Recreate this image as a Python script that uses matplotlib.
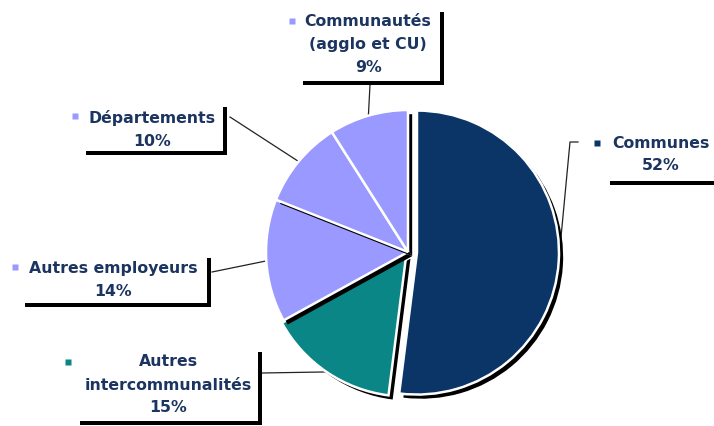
import numpy as np
import matplotlib
matplotlib.use('Agg')
import matplotlib.pyplot as plt
from matplotlib.patches import Rectangle
import matplotlib.patheffects as pe

# ---- data ----
categories = ['Communes', 'Autres intercommunalités', 'Autres employeurs',
              'Départements', 'Communautés (agglo et CU)']
name_lines = [['Communes'], ['Autres', 'intercommunalités'], ['Autres employeurs'],
              ['Départements'], ['Communautés', '(agglo et CU)']]
shares = [52, 15, 14, 10, 9]

# ---- style / layout (pixel coordinates, y from top) ----
colors = ['#0b3566', '#0b8686', '#9999ff', '#9999ff', '#9999ff']
explode_px = [9, 3, 0, 0, 0]
W, H = 714, 426
pie_center_px = (408, 252)
pie_radius = 142
# white label boxes (left, top, right, bottom)
boxes = [(606, 130, 730, 181), (76, 348, 258, 421), (21, 254, 207, 303),
         (82, 103, 223, 151), (299, 8, 440, 81)]
text_pos = [(661, 143), (168, 362), (113, 268), (152, 118), (368, 21)]
marker_pos = [(597, 143), (68, 362), (15, 267), (75, 116), (292, 21)]
leader_start = [[(578, 142), (570, 142)], [(262, 373)], [(212, 272)],
                [(230, 117)], [(370, 85)]]
line_step = 23
text_color = '#1c3460'
shadow_off = 4

def Y(y):
    return H - y

fig = plt.figure(figsize=(W / 100, H / 100), dpi=100)
ax = fig.add_axes([0, 0, 1, 1])

wedges, _ = ax.pie(shares, colors=colors, startangle=90, counterclock=False,
                   explode=explode_px, center=(pie_center_px[0], Y(pie_center_px[1])),
                   radius=pie_radius,
                   wedgeprops=dict(edgecolor='white', linewidth=1.8))
for w in wedges:
    w.set_path_effects([pe.SimplePatchShadow(offset=(3, -3), shadow_rgbFace='black',
                                             alpha=1.0), pe.Normal()])
    w.set_zorder(2)

ax.set_xlim(0, W)
ax.set_ylim(0, H)
ax.set_aspect('equal')
ax.axis('off')

for i, w in enumerate(wedges):
    # leader line
    mid = np.deg2rad((w.theta1 + w.theta2) / 2)
    cx, cy = w.center
    end = (cx + w.r * np.cos(mid), cy + w.r * np.sin(mid))
    pts = [(x, Y(y)) for x, y in leader_start[i]] + [end]
    xs, ys = zip(*pts)
    ax.plot(xs, ys, color='#222222', lw=0.9, zorder=1)
    # box with shadow
    l, t, r, b = boxes[i]
    ax.add_patch(Rectangle((l + shadow_off, Y(b + shadow_off)), r - l, b - t,
                           facecolor='black', edgecolor='none', zorder=3))
    ax.add_patch(Rectangle((l, Y(b)), r - l, b - t,
                           facecolor='white', edgecolor='none', zorder=4))
    # marker
    mx, my = marker_pos[i]
    ax.plot([mx], [Y(my)], marker='s', ms=5, color=colors[i], mec='none', zorder=5)
    # text
    lines = name_lines[i] + [f'{shares[i]}%']
    tx, ty = text_pos[i]
    for k, s in enumerate(lines):
        ax.text(tx, Y(ty + k * line_step), s, ha='center', va='center',
                fontsize=11.3, fontweight='bold', color=text_color,
                family='DejaVu Sans', zorder=6)

fig.savefig('out.png', dpi=100, facecolor='white')
